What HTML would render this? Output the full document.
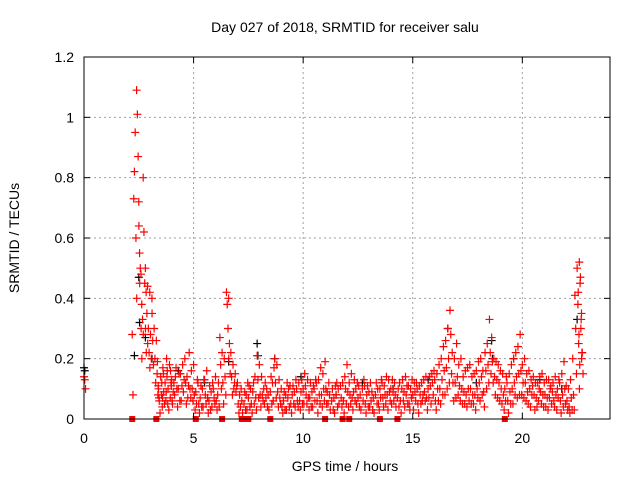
<!DOCTYPE html>
<html><head><meta charset="utf-8"><style>
body{margin:0;background:#fff;}
svg{display:block;font-family:"Liberation Sans",sans-serif;}
</style></head><body>
<svg id="chart" width="640" height="480" viewBox="0 0 640 480">
<rect width="640" height="480" fill="#fff"/>
<g id="grid"></g><g id="black"></g><g id="red"></g><g id="axes"></g>
<text x="345" y="32" font-size="14" text-anchor="middle">Day 027 of 2018, SRMTID for receiver salu</text>
<text x="345" y="471" font-size="14" text-anchor="middle">GPS time / hours</text>
<text x="19" y="238" font-size="14" text-anchor="middle" transform="rotate(-90 19 238)">SRMTID / TECUs</text>
</svg>
<script>
const xTicks=[0,5,10,15,20];
const yTicks=[0,0.2,0.4,0.6,0.8,1,1.2];
const yTickLabels=["0","0.2","0.4","0.6","0.8","1","1.2"];
const redTimes=[0,2.2,2.3,2.4,2.5,2.6,2.7,2.8,2.9,3.0,3.1,3.2,3.3,3.4,3.5,3.6,3.7,3.8,3.9,4.0,4.2,4.4,4.6,4.8,5.0,5.2,5.4,5.6,5.8,6.0,6.2,6.3,6.5,6.6,6.7,6.8,7.0,7.2,7.4,7.6,7.8,8.0,8.2,8.4,8.6,8.8,9.0,9.2,9.4,9.6,9.8,10.0,10.2,10.4,10.6,10.8,11.0,11.2,11.4,11.6,11.8,12.0,12.2,12.4,12.6,12.8,13.0,13.2,13.4,13.6,13.8,14.0,14.2,14.4,14.6,14.8,15.0,15.2,15.4,15.6,15.8,16.0,16.2,16.4,16.6,16.7,16.8,17.0,17.2,17.4,17.6,17.8,18.0,18.2,18.4,18.5,18.7,18.9,19.1,19.3,19.5,19.7,19.9,20.1,20.3,20.5,20.7,20.9,21.1,21.3,21.5,21.7,21.9,22.1,22.3,22.4,22.5,22.6,22.7];
const redValues=[[.14,.13,.1],[.28,.08,.73],[.82,.95,.6,.4],[1.09,1.01,.87,.64,.45],[.72,.55,.5,.3,.2],[.48,.38,.33,.28],[.8,.62,.45,.3,.22],[.5,.42,.35,.25],[.44,.3,.22,.17],[.42,.28,.2,.35],[.4,.26,.18],[.3,.2,.12],[.26,.15,.08],[.1,.06,.02],[.14,.08,.04],[.17,.09,.05],[.12,.06,.2],[.16,.1,.03],[.18,.07,.12],[.13,.05,.09],[.17,.1,.04],[.15,.06,.11],[.2,.12,.05],[.22,.1,.07],[.18,.08,.03],[.12,.05,.02],[.1,.04,.13],[.16,.07,.02],[.09,.04,.12],[.14,.06,.03],[.27,.18,.1],[.22,.12,.05],[.42,.38,.3,.2],[.4,.25,.15],[.22,.14,.08],[.18,.1,.12],[.12,.05,.02],[.06,.02],[.08,.03,.12],[.1,.05,.02],[.14,.07,.03],[.18,.08,.04],[.1,.05,.12],[.08,.03],[.12,.06,.17],[.18,.09,.04],[.1,.04,.02],[.08,.03,.12],[.11,.05,.02],[.09,.04,.13],[.12,.06,.03],[.1,.05,.15],[.13,.07,.03],[.09,.04,.11],[.12,.06,.02],[.17,.08,.04],[.19,.1,.05],[.08,.03],[.07,.02,.11],[.1,.05],[.12,.06,.02],[.18,.09,.04],[.15,.07,.03],[.1,.05,.12],[.08,.03],[.11,.05,.02],[.09,.04,.12],[.07,.02],[.1,.05,.03],[.12,.07,.04],[.14,.08,.03],[.1,.05,.13],[.08,.04],[.12,.06,.02],[.09,.04,.14],[.11,.05,.03],[.08,.03,.12],[.1,.05,.02],[.12,.06,.08],[.14,.07,.03],[.11,.05,.15],[.13,.06,.03],[.18,.1,.05],[.24,.16,.08],[.3,.2,.12],[.36,.28,.15],[.22,.12,.06],[.25,.14,.08],[.2,.1,.05],[.16,.08,.04],[.18,.1,.05],[.15,.08,.03],[.19,.12,.06],[.16,.09,.04],[.25,.18,.12],[.33,.22,.15],[.2,.14,.08],[.18,.12,.06],[.15,.08,.03],[.12,.06,.02],[.18,.1,.05],[.22,.14,.07],[.28,.16,.08],[.2,.12,.06],[.16,.1,.04],[.14,.08,.03],[.12,.06,.1],[.15,.08,.04],[.13,.07,.03],[.11,.05,.09],[.14,.08,.03],[.12,.06,.02],[.19,.1,.05],[.1,.04,.02],[.2,.08,.03],[.41,.3,.15],[.5,.38,.25,.1],[.52,.45,.3,.2],[.35,.22,.15]];
const redTimes2=[3.35,3.55,3.75,3.95,4.1,4.3,4.5,4.7,4.9,5.1,5.3,5.5,5.7,5.9,6.1,6.4,6.9,7.1,7.3,7.5,7.7,7.9,8.1,8.3,8.5,8.7,8.9,9.1,9.3,9.5,9.7,9.9,10.1,10.3,10.5,10.7,10.9,11.1,11.3,11.5,11.7,11.9,12.1,12.3,12.5,12.7,12.9,13.1,13.3,13.5,13.7,13.9,14.1,14.3,14.5,14.7,14.9,15.1,15.3,15.5,15.7,15.9,16.1,16.3,16.5,16.9,17.1,17.3,17.5,17.7,17.9,18.1,18.3,18.6,18.8,19.0,19.2,19.4,19.6,19.8,20.0,20.2,20.4,20.6,20.8,21.0,21.2,21.4,21.6,21.8,22.0,22.2,22.55,22.65];
const redValues2=[[.19,.11,.07],[.12,.07,.15],[.09,.14,.05],[.16,.11,.06],[.12,.08,.14],[.1,.15,.06],[.18,.09,.13],[.14,.07,.11],[.16,.1,.06],[.09,.05,.13],[.07,.11,.04],[.13,.08,.05],[.06,.11,.03],[.1,.07,.05],[.08,.12,.04],[.2,.14,.08],[.15,.09,.11],[.08,.04,.1],[.05,.09,.03],[.07,.11,.04],[.09,.12,.05],[.21,.13,.07],[.14,.08,.06],[.07,.1,.04],[.09,.14,.05],[.2,.12,.07],[.13,.07,.05],[.06,.09,.03],[.07,.1,.04],[.08,.11,.05],[.1,.06,.04],[.09,.13,.05],[.11,.08,.05],[.07,.12,.04],[.1,.06,.13],[.13,.08,.05],[.15,.1,.06],[.09,.05,.12],[.06,.1,.03],[.08,.12,.04],[.11,.07,.04],[.14,.1,.05],[.12,.08,.05],[.09,.13,.06],[.07,.11,.04],[.1,.06,.13],[.08,.11,.04],[.06,.09,.03],[.08,.12,.05],[.1,.07,.13],[.11,.08,.05],[.13,.09,.06],[.09,.06,.12],[.07,.1,.04],[.1,.13,.06],[.08,.11,.05],[.1,.07,.13],[.09,.06,.12],[.11,.08,.05],[.13,.09,.06],[.1,.07,.14],[.12,.08,.16],[.15,.1,.06],[.2,.13,.08],[.26,.17,.1],[.2,.12,.07],[.18,.11,.06],[.14,.09,.05],[.17,.1,.06],[.14,.08,.05],[.16,.1,.07],[.2,.14,.08],[.22,.16,.1],[.27,.19,.12],[.19,.13,.07],[.16,.1,.05],[.1,.06,.14],[.15,.09,.05],[.2,.12,.08],[.24,.15,.08],[.18,.12,.07],[.15,.09,.05],[.13,.08,.11],[.12,.07,.04],[.14,.09,.05],[.12,.08,.04],[.13,.07,.1],[.12,.06,.04],[.1,.07,.13],[.15,.08,.04],[.11,.06,.03],[.13,.07,.03],[.42,.28,.18],[.47,.33,.22]];
const blackTimes=[0,2.3,2.5,2.8,3.1,4.3,5.5,6.6,7.9,8.7,9.9,11.5,12.7,14.1,15.7,16.6,17.9,18.6,19.6,20.8,21.8,22.5];
const blackValues=[[.17,.16],[.21],[.47,.32],[.27],[.2],[.16],[.12],[.19],[.25,.21],[.2],[.14],[.08],[.12],[.1],[.13],[.3],[.12],[.26,.2],[.2],[.13],[.1],[.33]];
const zeroTimes=[2.2,3.3,5.1,6.3,7.2,7.35,7.5,8.5,11.0,11.8,12.1,13.5,14.3,19.2];

const NS='http://www.w3.org/2000/svg';
const L=84,R=610,T=57,B=419;
const xS=t=>L+t*(R-L)/24;
const yS=v=>B-v*(B-T)/1.2;
function mk(tag,attrs,parent){const e=document.createElementNS(NS,tag);for(const k in attrs)e.setAttribute(k,attrs[k]);parent.appendChild(e);return e;}
const grid=document.getElementById('grid'),axes=document.getElementById('axes');
yTicks.forEach((v,i)=>{
  if(i>0&&i<yTicks.length-1){const g=mk('line',{x1:L,x2:R,y1:yS(v),y2:yS(v),stroke:'#a0a0a0','stroke-dasharray':'2,3'},grid);
  
  }
  mk('line',{x1:L,x2:L+6,y1:yS(v),y2:yS(v),stroke:'#000'},axes);
  mk('line',{x1:R,x2:R-6,y1:yS(v),y2:yS(v),stroke:'#000'},axes);
  const t=mk('text',{x:L-10,y:yS(v)+5,'font-size':14,'text-anchor':'end'},axes);t.textContent=yTickLabels[i];
  
  
});
xTicks.forEach(v=>{
  if(v>0){const g=mk('line',{x1:xS(v),x2:xS(v),y1:T,y2:B,stroke:'#a0a0a0','stroke-dasharray':'2,3'},grid);
  
  }
  mk('line',{x1:xS(v),x2:xS(v),y1:B,y2:B-6,stroke:'#000'},axes);
  mk('line',{x1:xS(v),x2:xS(v),y1:T,y2:T+6,stroke:'#000'},axes);
  const t=mk('text',{x:xS(v),y:B+24,'font-size':14,'text-anchor':'middle'},axes);t.textContent=String(v);
  
  
});
const frame=mk('rect',{x:L,y:T,width:R-L,height:B-T,fill:'none',stroke:'#000'},axes);


function plus(times,vals,color,g,name){
  let d='';
  times.forEach((t,i)=>vals[i].forEach((v,k)=>{const x=xS(t+k*0.035),y=yS(v);d+=`M${x-4},${y}h8M${x},${y-4}v8`;}));
  const p=mk('path',{d:d,stroke:color,'stroke-width':1.2,fill:'none'},g);
  
  
}
plus(blackTimes,blackValues,'#000',document.getElementById('black'),'black-series-points');
plus(redTimes,redValues,'#ff0000',document.getElementById('red'),'red-series-points');
plus(redTimes2,redValues2,'#ff0000',document.getElementById('red'),'red-series-points-extra');
zeroTimes.forEach(t=>{const r=mk('rect',{x:xS(t)-3,y:B-3,width:6,height:6,fill:'#ff0000'},document.getElementById('red'));

});
</script>
</body></html>
